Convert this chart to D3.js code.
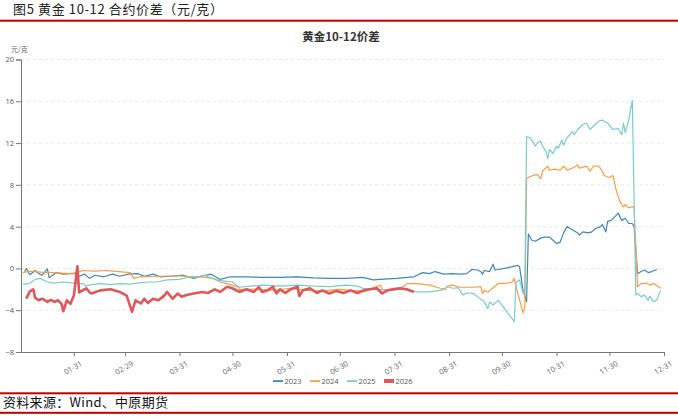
<!DOCTYPE html>
<html>
<head>
<meta charset="utf-8">
<script src="https://cdn.jsdelivr.net/npm/d3@7"></script>
<style>
  html, body { margin: 0; padding: 0; background: #fff; }
  svg { display: block; font-family: "Noto Sans CJK SC", "Noto Sans", sans-serif; }
</style>
</head>
<body>
<div id="main-div"></div>
<script>
// 黄金10-12价差, 日期按 月-日 放在同一年轴上

let years = ["2023", "2024", "2025", "2026"]
let colors = ["#3e88b8", "#fa9d3e", "#7acccc", "#e0575a"]

let yTicks = [-8, -4, 0, 4, 8, 12, 16, 20]
let xTickLabels = ["01-31", "02-29", "03-31", "04-30", "05-31", "06-30",
                   "07-31", "08-31", "09-30", "10-31", "11-30", "12-31"]

let s2023 = [["01-03",-0.3],["01-04",0.0],["01-06",-0.6],["01-09",-0.2],["01-11",-0.5],["01-13",-0.65],
  ["01-16",-0.05],["01-17",-0.9],["01-21",-0.4],["01-25",-0.55],["01-29",-0.5],["02-02",-0.5],
  ["02-03",-0.75],["02-06",-0.55],["02-09",-0.95],["02-12",-0.65],["02-17",-0.8],["02-22",-0.55],
  ["02-26",-0.75],["03-02",-0.55],["03-07",-0.5],["03-11",-0.75],["03-16",-0.55],["03-20",-0.8],
  ["03-26",-0.75],["04-02",-0.65],["04-08",-0.95],["04-12",-0.75],["04-18",-0.55],["04-23",-1.05],
  ["04-29",-0.8],["05-08",-0.8],["05-17",-0.85],["05-27",-0.85],["06-06",-0.8],["06-15",-0.9],
  ["06-24",-0.95],["07-04",-0.95],["07-13",-0.85],["07-19",-1.1],["07-23",-1.05],["08-01",-0.95],
  ["08-11",-0.8],["08-16",-0.4],["08-20",-0.5],["08-23",-0.3],["08-28",-0.55],["09-02",-0.5],
  ["09-06",-0.55],["09-10",-0.5],["09-13",-0.1],["09-16",-0.15],["09-18",-0.3],["09-19",-0.55],
  ["09-20",-0.2],["09-23",-0.3],["09-25",0.4],["09-26",-0.15],["10-03",0.05],["10-09",0.3],
  ["10-10",0.15],["10-12",-2.1],["10-14",-3.2],["10-15",3.3],["10-17",2.7],["10-19",2.6],
  ["10-22",2.9],["10-24",3.0],["10-27",3.0],["10-29",2.7],["10-31",2.4],["11-02",2.5],
  ["11-04",3.4],["11-06",4.0],["11-09",3.7],["11-12",3.4],["11-13",3.2],["11-15",3.5],
  ["11-18",3.4],["11-20",3.5],["11-22",3.8],["11-25",4.0],["11-26",4.2],["11-28",3.5],
  ["11-29",4.5],["12-01",4.6],["12-04",5.1],["12-05",5.3],["12-07",4.6],["12-09",4.8],
  ["12-11",4.3],["12-13",4.3],["12-14",4.0],["12-16",-0.5],["12-18",-0.3],["12-20",-0.15],
  ["12-22",-0.4],["12-24",-0.3],["12-27",-0.1]]

let s2024 = [["01-02",-0.4],["01-06",-0.25],["01-12",-0.35],["01-19",-0.4],["01-29",-0.5],["02-02",-0.4],
  ["02-05",-0.2],["02-12",-0.25],["02-19",-0.2],["02-22",-0.25],["03-03",-0.4],["03-05",-0.95],
  ["03-09",-0.8],["03-20",-0.75],["03-31",-0.7],["04-08",-0.85],["04-12",-0.8],["04-19",-0.95],
  ["04-23",-1.3],["04-27",-1.45],["05-03",-1.75],["05-04",-2.0],["05-14",-2.0],["05-23",-2.1],
  ["06-02",-1.9],["06-11",-2.1],["06-20",-2.15],["06-30",-2.0],["07-10",-2.15],["07-17",-2.0],
  ["07-23",-1.6],["07-24",-2.0],["07-30",-2.1],["08-05",-1.75],["08-07",-1.45],["08-13",-1.45],
  ["08-20",-1.6],["08-26",-1.9],["08-29",-2.0],["08-30",-1.7],["09-02",-1.6],["09-06",-1.8],
  ["09-14",-1.8],["09-18",-1.75],["09-19",-2.4],["09-20",-2.1],["09-22",-2.25],["09-24",-2.0],
  ["09-28",-1.45],["10-03",-1.4],["10-06",-1.3],["10-07",-0.95],["10-08",-1.75],["10-12",-4.25],
  ["10-13",-3.7],["10-14",8.6],["10-16",8.8],["10-20",9.0],["10-22",8.6],["10-23",9.3],
  ["10-26",9.8],["10-27",9.4],["10-30",9.5],["11-02",9.4],["11-04",9.8],["11-06",9.4],
  ["11-09",9.6],["11-12",9.9],["11-13",9.6],["11-17",9.8],["11-19",9.3],["11-21",9.8],
  ["11-24",9.8],["11-26",9.3],["11-27",8.9],["11-30",8.7],["12-02",8.9],["12-04",7.4],
  ["12-06",6.4],["12-08",5.9],["12-09",6.1],["12-11",5.8],["12-13",5.9],["12-14",5.9],
  ["12-16",-1.75],["12-18",-1.45],["12-21",-1.4],["12-23",-1.6],["12-25",-1.45],["12-28",-1.75],
  ["12-29",-1.9]]

let s2025 = [["01-02",-1.5],["01-06",-1.45],["01-09",-1.05],["01-12",-0.95],["01-13",-1.05],["01-16",-1.3],
  ["01-19",-1.4],["01-25",-1.3],["01-31",-1.4],["02-05",-1.45],["02-07",-1.7],["02-10",-1.55],
  ["02-15",-1.45],["02-21",-1.55],["02-26",-1.45],["03-03",-1.5],["03-07",-1.4],["03-13",-1.3],
  ["03-18",-1.3],["03-24",-1.1],["03-31",-1.05],["04-06",-0.8],["04-12",-0.75],["04-14",-0.65],
  ["04-17",-0.85],["04-21",-1.1],["04-25",-1.2],["04-30",-1.3],["05-01",-1.45],["05-04",-1.8],
  ["05-10",-1.7],["05-17",-1.6],["05-27",-1.7],["06-06",-1.6],["06-15",-1.7],["06-24",-1.75],
  ["07-04",-1.6],["07-10",-1.7],["07-13",-1.9],["07-21",-2.0],["07-28",-2.1],["08-05",-2.0],
  ["08-13",-2.25],["08-20",-2.25],["08-26",-2.1],["08-28",-2.0],["08-30",-1.75],["09-02",-1.9],
  ["09-05",-1.85],["09-08",-2.55],["09-10",-2.35],["09-14",-2.4],["09-16",-2.7],["09-20",-3.2],
  ["09-22",-3.85],["09-23",-3.2],["09-25",-3.5],["09-26",-3.35],["09-28",-3.05],["10-07",-5.1],
  ["10-08",-1.3],["10-10",-1.1],["10-12",-2.4],["10-13",-2.1],["10-14",12.6],["10-16",12.5],
  ["10-18",12.0],["10-19",11.7],["10-20",12.0],["10-22",12.2],["10-23",11.7],["10-25",11.2],
  ["10-26",10.5],["10-27",11.4],["10-29",11.0],["10-31",11.7],["11-01",11.5],["11-03",12.3],
  ["11-04",11.8],["11-06",12.5],["11-09",13.1],["11-10",12.8],["11-12",13.3],["11-15",13.8],
  ["11-17",13.9],["11-19",13.3],["11-22",13.8],["11-24",14.1],["11-26",14.2],["11-29",13.9],
  ["12-02",13.3],["12-05",13.4],["12-07",12.8],["12-08",13.9],["12-09",13.0],["12-11",14.2],
  ["12-12",15.2],["12-13",16.1],["12-15",-2.55],["12-16",-2.4],["12-18",-2.7],["12-20",-2.55],
  ["12-22",-3.05],["12-23",-2.65],["12-25",-3.2],["12-27",-3.0],["12-29",-2.1]]

let s2026 = [["01-04",-2.9],["01-06",-2.2],["01-08",-2.0],["01-09",-2.8],["01-11",-3.05],["01-13",-2.9],
  ["01-16",-3.2],["01-18",-3.0],["01-20",-3.2],["01-22",-3.05],["01-24",-3.4],["01-25",-4.1],
  ["01-27",-3.05],["01-29",-3.4],["01-31",-2.6],["02-02",0.2],["02-03",-2.3],["02-05",-2.1],
  ["02-07",-1.9],["02-09",-2.3],["02-10",-2.4],["02-15",-2.1],["02-21",-2.0],["02-26",-2.25],
  ["03-01",-2.6],["03-04",-4.15],["03-06",-3.05],["03-09",-3.35],["03-11",-2.9],["03-13",-3.3],
  ["03-16",-2.9],["03-19",-3.05],["03-22",-2.65],["03-24",-2.25],["03-27",-2.9],["03-30",-2.4],
  ["04-01",-2.7],["04-04",-2.55],["04-08",-2.4],["04-13",-2.25],["04-16",-2.35],["04-20",-2.0],
  ["04-23",-2.25],["04-27",-1.75],["04-30",-1.9],["05-04",-2.25],["05-08",-2.0],["05-12",-2.25],
  ["05-15",-1.8],["05-17",-2.25],["05-20",-2.1],["05-23",-1.75],["05-25",-2.4],["05-27",-2.0],
  ["05-30",-2.35],["06-02",-2.0],["06-06",-1.75],["06-07",-2.65],["06-09",-2.1],["06-13",-1.9],
  ["06-17",-2.35],["06-20",-2.1],["06-24",-2.4],["06-28",-2.15],["07-02",-2.35],["07-06",-2.1],
  ["07-10",-2.35],["07-13",-2.15],["07-17",-2.0],["07-21",-1.9],["07-24",-2.4],["07-27",-2.1],
  ["07-30",-2.0],["08-03",-1.9],["08-07",-2.0],["08-11",-2.25]]

let seriesList = [s2023, s2024, s2025, s2026]

let width = 678
let height = 417
let margin = {top: 59.5, right: 14, bottom: 65, left: 21}

// 全部放到闰年2024上, 这样02-29能有位置
let parseDay = d3.timeParse("%Y-%m-%d")
let toDate = md => parseDay("2024-" + md)

let svg = d3.select("#main-div")
  .append("svg")
  .attr("width", width)
  .attr("height", height)

// 报告页眉
svg.append("text")
  .attr("x", 13)
  .attr("y", 14)
  .attr("font-size", 13)
  .attr("fill", "#222")
  .attr("textLength", 210)
  .attr("lengthAdjust", "spacing")
  .text("图5 黄金 10-12 合约价差（元/克）")

svg.append("rect")
  .attr("x", 0).attr("y", 19.7)
  .attr("width", width).attr("height", 2)
  .attr("fill", "#c00000")

// 图表标题
svg.append("text")
  .attr("x", 341)
  .attr("y", 41)
  .attr("text-anchor", "middle")
  .attr("font-size", 11.5)
  .attr("font-weight", "bold")
  .attr("fill", "#333")
  .text("黄金10-12价差")

svg.append("text")
  .attr("x", 11)
  .attr("y", 52)
  .attr("font-size", 7)
  .attr("fill", "#666")
  .text("元/克")

let x = d3.scaleTime()
  .domain([toDate("01-01"), toDate("12-31")])
  .range([margin.left, width - margin.right])

let y = d3.scaleLinear()
  .domain([-8, 20])
  .range([352, margin.top])

// 网格线
svg.append("g")
  .selectAll("line")
  .data(yTicks.filter(t => t !== -8))
  .join("line")
  .attr("x1", margin.left)
  .attr("x2", width - margin.right)
  .attr("y1", d => y(d))
  .attr("y2", d => y(d))
  .attr("stroke", "#e2e2e2")
  .attr("stroke-width", 0.8)
  .attr("stroke-dasharray", "3,3")

let yAxis = svg.append("g")
  .attr("transform", `translate(${margin.left},0)`)
  .call(d3.axisLeft(y).tickValues(yTicks).tickSize(5).tickPadding(2))
yAxis.select(".domain").attr("stroke", "#777")
yAxis.selectAll(".tick line").attr("stroke", "#777")
yAxis.selectAll(".tick text")
  .attr("font-size", 7.5)
  .attr("fill", "#555")
  .attr("font-family", "'Open Sans', 'Noto Sans', sans-serif")

let xAxis = svg.append("g")
  .attr("transform", `translate(0,${y(-8)})`)
  .call(d3.axisBottom(x)
    .tickValues(xTickLabels.map(toDate))
    .tickFormat(d3.timeFormat("%m-%d"))
    .tickSize(4)
    .tickSizeOuter(0))
xAxis.select(".domain").attr("stroke", "#777")
xAxis.selectAll(".tick line").attr("stroke", "#777")
xAxis.selectAll(".tick text")
  .attr("font-size", 7.5)
  .attr("fill", "#666")
  .attr("font-family", "'Open Sans', 'Noto Sans', sans-serif")
  .attr("text-anchor", "middle")
  .attr("y", 0)
  .attr("dy", 0)
  .attr("transform", "translate(0,18) rotate(-30)")

let line = d3.line()
  .x(d => x(toDate(d[0])))
  .y(d => y(d[1]))

svg.append("g")
  .selectAll("path")
  .data(seriesList)
  .join("path")
  .attr("fill", "none")
  .attr("stroke", (d, i) => colors[i])
  .attr("stroke-width", (d, i) => i === 3 ? 2.6 : 1.2)
  .attr("stroke-linejoin", "round")
  .attr("d", line)

// 图例
let legend = svg.append("g")
  .selectAll("g")
  .data(years)
  .join("g")
  .attr("transform", (d, i) => `translate(${273 + i * 37},381)`)

legend.append("rect")
  .attr("x", 0)
  .attr("y", (d, i) => i === 3 ? -2 : -0.8)
  .attr("width", 10)
  .attr("height", (d, i) => i === 3 ? 4 : 1.8)
  .attr("fill", (d, i) => colors[i])

legend.append("text")
  .attr("x", 11.5)
  .attr("y", 2.6)
  .attr("font-size", 7.5)
  .attr("fill", "#555")
  .attr("font-family", "'Open Sans', 'Noto Sans', sans-serif")
  .text(d => d)

// 页脚
svg.append("rect")
  .attr("x", 0).attr("y", 392.3)
  .attr("width", width).attr("height", 2)
  .attr("fill", "#c00000")

svg.append("text")
  .attr("x", 3)
  .attr("y", 407)
  .attr("font-size", 13)
  .attr("fill", "#111")
  .attr("textLength", 165)
  .attr("lengthAdjust", "spacing")
  .text("资料来源：Wind、中原期货")

svg.append("rect")
  .attr("x", 0).attr("y", 411.8)
  .attr("width", width).attr("height", 2)
  .attr("fill", "#c00000")
</script>
</body>
</html>
